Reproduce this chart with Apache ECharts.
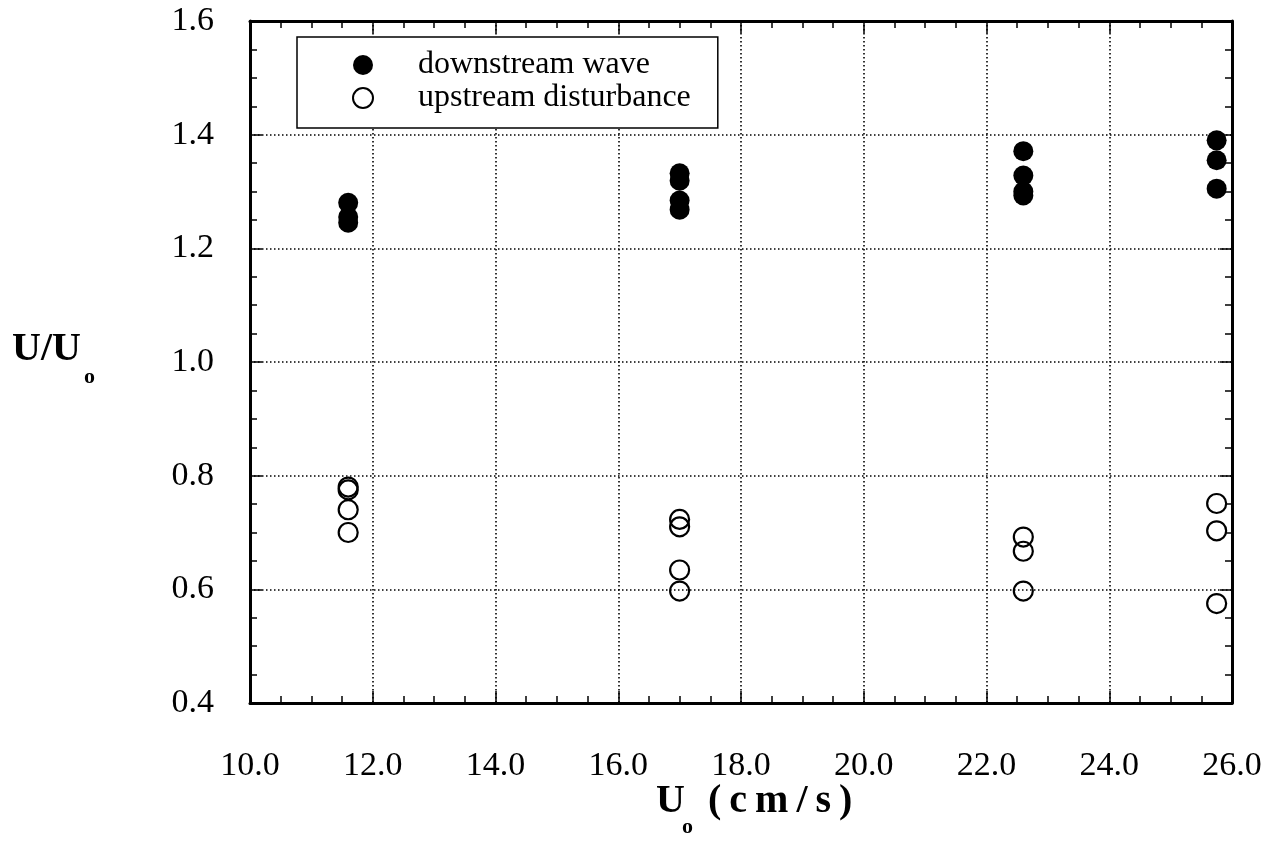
<!DOCTYPE html>
<html>
<head>
<meta charset="utf-8">
<script src="https://cdn.jsdelivr.net/npm/echarts@6/dist/echarts.min.js"></script>
<style>
html,body{margin:0;padding:0;background:#fff;}
#chart{width:1275px;height:842px;}
</style>
</head>
<body>
<div id="chart"></div>
<script>
// ---- data ----
const seriesNames = ['downstream wave', 'upstream disturbance'];
const downstreamX = [11.6, 11.6, 11.6, 17.0, 17.0, 17.0, 17.0, 22.6, 22.6, 22.6, 22.6, 25.75, 25.75, 25.75];
const downstreamY = [1.28, 1.255, 1.245, 1.332, 1.319, 1.284, 1.268, 1.371, 1.328, 1.30, 1.293, 1.39, 1.355, 1.305];
const upstreamX = [11.6, 11.6, 11.6, 11.6, 17.0, 17.0, 17.0, 17.0, 22.6, 22.6, 22.6, 25.75, 25.75, 25.75];
const upstreamY = [0.78, 0.775, 0.74, 0.70, 0.723, 0.71, 0.634, 0.597, 0.692, 0.667, 0.597, 0.751, 0.703, 0.575];
const xTicks = [10, 12, 14, 16, 18, 20, 22, 24, 26];
const yTicks = [0.4, 0.6, 0.8, 1.0, 1.2, 1.4, 1.6];

const font = 'Liberation Serif';
const pair = (xs, ys) => xs.map((x, i) => [x, ys[i]]);

const chart = echarts.init(document.getElementById('chart'));

const xBase = {
  type: 'value', min: xTicks[0], max: xTicks[xTicks.length - 1], interval: 2,
  axisLine: { show: true, onZero: false, lineStyle: { color: '#000', width: 3 } },
  axisTick: { show: true, inside: true, length: 12, lineStyle: { color: '#000', width: 1.5 } },
  minorTick: { show: true, splitNumber: 4, length: 7, lineStyle: { color: '#000', width: 1.5 } }
};
const yBase = {
  type: 'value', min: yTicks[0], max: yTicks[yTicks.length - 1], interval: 0.2,
  axisLine: { show: true, onZero: false, lineStyle: { color: '#000', width: 3 } },
  axisTick: { show: true, inside: true, length: 12, lineStyle: { color: '#000', width: 1.5 } },
  minorTick: { show: true, splitNumber: 4, length: 7, lineStyle: { color: '#000', width: 1.5 } }
};

chart.setOption({
  animation: false,
  backgroundColor: '#fff',
  grid: { left: 250, right: 43, top: 21, bottom: 139, containLabel: false },
  xAxis: [
    Object.assign({}, xBase, {
      position: 'bottom',
      axisLabel: { show: true, margin: 46, fontFamily: font, fontSize: 34, color: '#000', formatter: v => v.toFixed(1) },
      splitLine: { show: true, lineStyle: { color: '#000', width: 1.6, type: [1.5, 2.5] } }
    }),
    Object.assign({}, xBase, {
      position: 'top',
      axisLabel: { show: false },
      splitLine: { show: false }
    })
  ],
  yAxis: [
    Object.assign({}, yBase, {
      position: 'left',
      axisLabel: { show: true, margin: 36, fontFamily: font, fontSize: 34, color: '#000', formatter: v => v.toFixed(1) },
      splitLine: { show: true, lineStyle: { color: '#000', width: 1.6, type: [1.5, 2.5] } }
    }),
    Object.assign({}, yBase, {
      position: 'right',
      axisLabel: { show: false },
      splitLine: { show: false }
    })
  ],
  legend: {
    orient: 'vertical',
    left: 297, top: 37,
    width: 415,
    backgroundColor: '#fff',
    borderColor: '#000', borderWidth: 1.5,
    padding: [12, 27, 14, 55],
    itemGap: 1,
    itemWidth: 20, itemHeight: 20,
    textStyle: { fontFamily: font, fontSize: 32, color: '#000', lineHeight: 32, padding: [0, 0, 0, 40] },
    data: seriesNames
  },
  graphic: [
    { type: 'text', left: 12, top: 330, style: { text: 'U/U', font: 'bold 40px "Liberation Serif"', fill: '#000' } },
    { type: 'text', left: 84, top: 366, style: { text: 'o', font: 'bold 22px "Liberation Serif"', fill: '#000' } },
    { type: 'text', left: 656, top: 782, style: { text: 'U', font: 'bold 40px "Liberation Serif"', fill: '#000' } },
    { type: 'text', left: 682, top: 816, style: { text: 'o', font: 'bold 22px "Liberation Serif"', fill: '#000' } },
    { type: 'text', left: 708, top: 782, style: { text: '(\u2009c\u2009m\u2009/\u2009s\u2009)', font: 'bold 40px "Liberation Serif"', fill: '#000' } }
  ],
  series: [
    {
      name: seriesNames[0], type: 'scatter', xAxisIndex: 0, yAxisIndex: 0,
      symbol: 'circle', symbolSize: 20,
      itemStyle: { color: '#000', opacity: 1 },
      data: pair(downstreamX, downstreamY)
    },
    {
      name: seriesNames[1], type: 'scatter', xAxisIndex: 0, yAxisIndex: 0,
      symbol: 'circle', symbolSize: 19,
      itemStyle: { color: 'rgba(255,255,255,0)', borderColor: '#000', borderWidth: 2.2, opacity: 1 },
      data: pair(upstreamX, upstreamY)
    }
  ]
});
</script>
</body>
</html>
